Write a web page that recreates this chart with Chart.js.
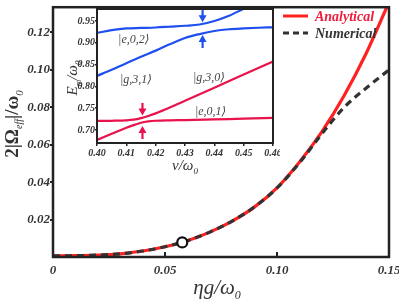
<!DOCTYPE html>
<html>
<head>
<meta charset="UTF-8">
<title>Effective coupling</title>
<script src="https://cdn.jsdelivr.net/npm/chart.js"></script>
<style>
  body { margin: 0; background: #fff; }
  #wrap { position: relative; width: 399px; height: 302px; }
  #mainBox { position: absolute; left: 0; top: 0; width: 399px; height: 302px; }
  #insetBox { position: absolute; left: 55px; top: 0; width: 225px; height: 180px; }
</style>
</head>
<body>
<div id="wrap">
  <div id="mainBox"><canvas id="mainChart"></canvas></div>
  <div id="insetBox"><canvas id="insetChart"></canvas></div>
</div>
<script>
// ---- main panel data ----
const gValues    = [0, 0.01, 0.02, 0.03, 0.04, 0.05, 0.06, 0.07, 0.08, 0.09, 0.10, 0.11, 0.12, 0.13, 0.14, 0.15];
const analytical = [0.0006, 0.0007, 0.0010, 0.0017, 0.0032, 0.0055, 0.0087, 0.0133, 0.0192, 0.0268, 0.0370, 0.0507, 0.0669, 0.0863, 0.1093, 0.1362];
const numerical  = [0.0006, 0.0007, 0.0010, 0.0017, 0.0032, 0.0055, 0.0087, 0.0133, 0.0192, 0.0268, 0.0369, 0.0503, 0.0658, 0.0800, 0.0905, 0.1000];
const markerPoint = [{ x: 0.0577, y: 0.0078 }];
const mainXTicks = [0, 0.05, 0.10, 0.15];
const mainYTicks = [0.02, 0.04, 0.06, 0.08, 0.10, 0.12];

// ---- inset data ----
const nuTicks     = [0.40, 0.41, 0.42, 0.43, 0.44, 0.45, 0.46];
const energyTicks = [0.70, 0.75, 0.80, 0.85, 0.90, 0.95];
const nuRed    = [0.40, 0.405, 0.41, 0.4125, 0.415, 0.4175, 0.42, 0.425, 0.43, 0.44, 0.45, 0.46];
const redLower = [0.677, 0.691, 0.705, 0.711, 0.7165, 0.7195, 0.721, 0.722, 0.7225, 0.724, 0.726, 0.7275];
const redUpper = [0.7206, 0.721, 0.722, 0.7235, 0.727, 0.732, 0.738, 0.752, 0.767, 0.797, 0.827, 0.857];
const nuBlue    = [0.40, 0.405, 0.41, 0.415, 0.42, 0.425, 0.43, 0.435, 0.44, 0.445, 0.45, 0.455, 0.46];
const blueLower = [0.824, 0.838, 0.853, 0.868, 0.882, 0.897, 0.911, 0.920, 0.927, 0.931, 0.933, 0.9345, 0.9355];
const blueUpper = [0.9225, 0.929, 0.933, 0.934, 0.935, 0.937, 0.939, 0.942, 0.950, 0.962, 0.978, 0.993, 1.01];
const stateLabels = ['|e,0,2\u27E9', '|g,3,1\u27E9', '|g,3,0\u27E9', '|e,0,1\u27E9'];
const stateX = [0.4072, 0.4078, 0.4327, 0.4334];
const stateY = [0.906, 0.815, 0.819, 0.741];
const arrowX    = [0.4155, 0.4155, 0.436, 0.436];
const arrowFrom = [0.762, 0.679, 0.975, 0.888];
const arrowTo   = [0.733, 0.709, 0.947, 0.918];
const arrowColor = ['#e8124c', '#e8124c', '#1f4fef', '#1f4fef'];

const SERIF = '"Liberation Serif", "DejaVu Serif", serif';
const tickFont = (size) => ({ family: SERIF, style: 'italic', weight: 'bold', size: size });

function pts(xs, ys) {
  return xs.map((x, i) => ({ x: x, y: ys[i] }));
}

// draw a run of text pieces (normal + subscripts) starting at x on baseline y
function drawParts(ctx, parts, x, y, align) {
  let total = 0;
  parts.forEach(p => { ctx.font = p.font; total += ctx.measureText(p.t).width; });
  let cx = align === 'center' ? x - total / 2 : x;
  parts.forEach(p => {
    ctx.font = p.font;
    ctx.fillText(p.t, cx, y + (p.dy || 0));
    cx += ctx.measureText(p.t).width;
  });
}

const mainDecor = {
  id: 'mainDecor',
  afterDraw(chart) {
    const ctx = chart.ctx;
    const a = chart.chartArea;
    const xs = chart.scales.x;
    ctx.save();
    // frame
    ctx.strokeStyle = '#222';
    ctx.lineWidth = 2.5;
    ctx.strokeRect(a.left, a.top, a.right - a.left, a.bottom - a.top);
    // inward x tick marks
    ctx.lineWidth = 2;
    [0.05, 0.10].forEach(v => {
      const px = xs.getPixelForValue(v);
      ctx.beginPath();
      ctx.moveTo(px, a.bottom);
      ctx.lineTo(px, a.bottom - 5);
      ctx.stroke();
    });
    // legend
    ctx.lineWidth = 3;
    ctx.strokeStyle = '#ff2020';
    ctx.beginPath(); ctx.moveTo(283, 16); ctx.lineTo(308, 16); ctx.stroke();
    ctx.strokeStyle = '#333';
    ctx.setLineDash([6, 4]);
    ctx.beginPath(); ctx.moveTo(283, 33); ctx.lineTo(308, 33); ctx.stroke();
    ctx.setLineDash([]);
    ctx.textBaseline = 'middle';
    ctx.font = 'italic bold 14px ' + SERIF;
    ctx.fillStyle = '#ee1c3c';
    ctx.fillText('Analytical', 315, 17);
    ctx.fillStyle = '#333';
    ctx.fillText('Numerical', 315, 34);
    // axis titles
    ctx.textBaseline = 'alphabetic';
    ctx.fillStyle = '#333';
    drawParts(ctx, [
      { t: '\u03B7g/\u03C9', font: 'italic 21px ' + SERIF },
      { t: '0', font: 'italic 12px ' + SERIF, dy: 5 }
    ], 217, 294, 'center');
    ctx.translate(12, 124);
    ctx.rotate(-Math.PI / 2);
    drawParts(ctx, [
      { t: '2|\u03A9', font: 'bold 19px ' + SERIF },
      { t: 'eff', font: 'italic 10px ' + SERIF, dy: 4 },
      { t: '|/\u03C9', font: 'bold 19px ' + SERIF },
      { t: '0', font: 'italic 11px ' + SERIF, dy: 5 }
    ], 0, 6, 'center');
    ctx.restore();
  }
};

new Chart(document.getElementById('mainChart'), {
  type: 'line',
  data: {
    datasets: [
      {
        label: 'marker',
        data: markerPoint,
        showLine: false,
        pointRadius: 5,
        pointBorderWidth: 2.2,
        pointBackgroundColor: '#fff',
        pointBorderColor: '#111',
        order: 0
      },
      {
        label: 'Numerical',
        data: pts(gValues, numerical),
        borderColor: '#333',
        borderWidth: 3.2,
        borderDash: [7, 5],
        pointRadius: 0,
        cubicInterpolationMode: 'monotone',
        order: 1
      },
      {
        label: 'Analytical',
        data: pts(gValues, analytical),
        borderColor: '#ff2020',
        borderWidth: 3.2,
        pointRadius: 0,
        cubicInterpolationMode: 'monotone',
        order: 2
      }
    ]
  },
  options: {
    responsive: true,
    maintainAspectRatio: false,
    animation: false,
    layout: { padding: { left: 0, right: 10, top: 1, bottom: 0 } },
    plugins: { legend: { display: false }, tooltip: { enabled: false } },
    scales: {
      x: {
        type: 'linear',
        min: 0,
        max: 0.15,
        afterBuildTicks: s => { s.ticks = mainXTicks.map(v => ({ value: v })); },
        afterFit: s => { s.height = 45; s.paddingLeft = 0; s.paddingRight = 0; },
        grid: { display: false, drawTicks: false },
        border: { display: false },
        ticks: {
          padding: 6,
          maxRotation: 0,
          color: '#333',
          font: tickFont(13),
          callback: v => (v === 0 ? '0' : v.toFixed(2))
        }
      },
      y: {
        min: 0,
        max: 0.1335,
        afterBuildTicks: s => { s.ticks = mainYTicks.map(v => ({ value: v })); },
        afterFit: s => { s.width = 53; s.paddingTop = 0; s.paddingBottom = 0; },
        grid: { drawOnChartArea: false, drawTicks: true, tickLength: 3, color: '#222', lineWidth: 2 },
        border: { display: false },
        ticks: {
          padding: 0,
          color: '#333',
          font: tickFont(13),
          callback: v => v.toFixed(2)
        }
      }
    }
  },
  plugins: [mainDecor]
});

const insetDecor = {
  id: 'insetDecor',
  afterDraw(chart) {
    const ctx = chart.ctx;
    const a = chart.chartArea;
    const xs = chart.scales.x;
    const ys = chart.scales.y;
    ctx.save();
    ctx.strokeStyle = '#222';
    ctx.lineWidth = 2;
    ctx.strokeRect(a.left, a.top, a.right - a.left, a.bottom - a.top);
    // arrows
    arrowX.forEach((v, i) => {
      const px = xs.getPixelForValue(v);
      const y0 = ys.getPixelForValue(arrowFrom[i]);
      const y1 = ys.getPixelForValue(arrowTo[i]);
      const dir = y1 > y0 ? 1 : -1;
      ctx.strokeStyle = arrowColor[i];
      ctx.fillStyle = arrowColor[i];
      ctx.lineWidth = 2.2;
      ctx.beginPath();
      ctx.moveTo(px, y0);
      ctx.lineTo(px, y1 - dir * 5);
      ctx.stroke();
      ctx.beginPath();
      ctx.moveTo(px, y1);
      ctx.lineTo(px - 4, y1 - dir * 7);
      ctx.lineTo(px + 4, y1 - dir * 7);
      ctx.closePath();
      ctx.fill();
    });
    // state labels
    ctx.fillStyle = '#444';
    ctx.font = 'italic 12px ' + SERIF;
    ctx.textBaseline = 'middle';
    stateLabels.forEach((s, i) => {
      ctx.fillText(s, xs.getPixelForValue(stateX[i]), ys.getPixelForValue(stateY[i]));
    });
    // titles
    ctx.textBaseline = 'alphabetic';
    ctx.fillStyle = '#333';
    drawParts(ctx, [
      { t: '\u03BD/\u03C9', font: 'italic 15px ' + SERIF },
      { t: '0', font: 'italic 9px ' + SERIF, dy: 4 }
    ], 130, 170, 'center');
    ctx.translate(17, 78);
    ctx.rotate(-Math.PI / 2);
    drawParts(ctx, [
      { t: 'E', font: 'italic 15px ' + SERIF },
      { t: 'm', font: 'italic 9px ' + SERIF, dy: 4 },
      { t: '/\u03C9', font: 'italic 15px ' + SERIF },
      { t: '0', font: 'italic 9px ' + SERIF, dy: 4 }
    ], 0, 5, 'center');
    ctx.restore();
  }
};

const insetLine = (data, color) => ({
  data: data,
  borderColor: color,
  borderWidth: 2.2,
  pointRadius: 0,
  cubicInterpolationMode: 'monotone'
});

new Chart(document.getElementById('insetChart'), {
  type: 'line',
  data: {
    datasets: [
      insetLine(pts(nuRed, redLower), '#e8124c'),
      insetLine(pts(nuRed, redUpper), '#e8124c'),
      insetLine(pts(nuBlue, blueLower), '#1f4fef'),
      insetLine(pts(nuBlue, blueUpper), '#1f4fef')
    ]
  },
  options: {
    responsive: true,
    maintainAspectRatio: false,
    animation: false,
    layout: { padding: { left: 0, right: 7, top: 9, bottom: 0 } },
    plugins: { legend: { display: false }, tooltip: { enabled: false } },
    scales: {
      x: {
        type: 'linear',
        min: 0.40,
        max: 0.46,
        afterBuildTicks: s => { s.ticks = nuTicks.map(v => ({ value: v })); },
        afterFit: s => { s.height = 37; s.paddingLeft = 0; s.paddingRight = 0; },
        grid: { drawOnChartArea: false, drawTicks: true, tickLength: 3, color: '#222', lineWidth: 1.5 },
        border: { display: false },
        ticks: {
          padding: 1,
          maxRotation: 0,
          color: '#333',
          font: tickFont(10),
          callback: v => v.toFixed(2)
        }
      },
      y: {
        min: 0.67,
        max: 0.9775,
        afterBuildTicks: s => { s.ticks = energyTicks.map(v => ({ value: v })); },
        afterFit: s => { s.width = 42; s.paddingTop = 0; s.paddingBottom = 0; },
        grid: { drawOnChartArea: false, drawTicks: true, tickLength: 2, color: '#222', lineWidth: 1.5 },
        border: { display: false },
        ticks: {
          padding: 0,
          color: '#333',
          font: tickFont(10),
          callback: v => v.toFixed(2)
        }
      }
    }
  },
  plugins: [insetDecor]
});
</script>
</body>
</html>
